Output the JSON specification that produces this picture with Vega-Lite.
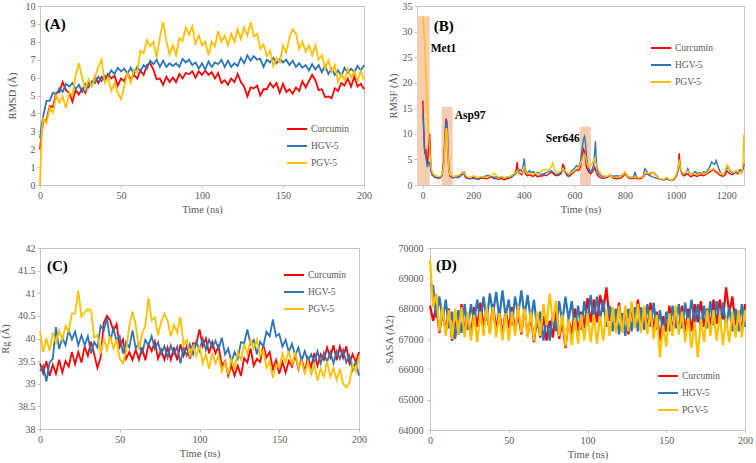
{
"$schema": "https://vega.github.io/schema/vega-lite/v6.json",
"background": "white",
"padding": {"left": 0, "top": 0, "right": 0, "bottom": 0},
"config": {
 "font": "Liberation Serif, Times New Roman, serif",
 "view": {"stroke": "#c4c4c4"},
 "axis": {"grid": false, "labelOverlap": false, "labelFlush": false, "tickCount": 20, "domainColor": "#c4c4c4", "tickColor": "#c4c4c4", "tickSize": 3, "labelColor": "#595959", "titleColor": "#595959", "labelFont": "Liberation Serif, Times New Roman, serif", "titleFont": "Liberation Serif, Times New Roman, serif", "labelFontSize": 10, "titleFontSize": 10.5, "titleFontWeight": "normal", "labelPadding": 2, "titlePadding": 4},
 "legend": {"symbolType": "stroke", "symbolSize": 400, "symbolStrokeWidth": 2, "clipHeight": 12, "labelFont": "Liberation Serif, Times New Roman, serif", "labelFontSize": 9.5, "labelColor": "#595959", "rowPadding": 5, "labelOffset": 3, "padding": 0},
 "text": {"font": "Liberation Serif, Times New Roman, serif"}
},
"datasets": {
"rmsd": [
{"t":0,"c":2.0,"h":2.6,"p":0},{"t":1,"c":2.9,"h":3.3,"p":2.8},{"t":2,"c":3.5,"h":3.85,"p":3.7},{"t":4,"c":3.65,"h":4.7,"p":3.45},{"t":6,"c":4.4,"h":4.7,"p":4.3},{"t":8,"c":4.35,"h":5.15,"p":4.05},{"t":10,"c":5.15,"h":5.05,"p":5.0},{"t":12,"c":5.2,"h":5.4,"p":4.6},{"t":14,"c":5.75,"h":5.2,"p":4.95},{"t":16,"c":5.3,"h":5.65,"p":4.3},{"t":18,"c":5.15,"h":5.5,"p":5.15},{"t":20,"c":4.65,"h":5.7,"p":5.0},
{"t":22,"c":5.3,"h":5.35,"p":6.1},{"t":24,"c":5.05,"h":5.6,"p":6.8},{"t":26,"c":5.4,"h":5.2,"p":6.0},{"t":28,"c":5.15,"h":5.65,"p":5.35},{"t":30,"c":5.75,"h":5.45,"p":5.9},{"t":32,"c":5.6,"h":5.8,"p":5.5},{"t":34,"c":6.05,"h":5.7,"p":6.05},{"t":36,"c":5.7,"h":6.05,"p":6.6},{"t":38,"c":6.05,"h":5.8,"p":7.0},{"t":40,"c":5.85,"h":6.1,"p":5.7},
{"t":42,"c":6.2,"h":6.05,"p":6.0},{"t":44,"c":5.95,"h":6.4,"p":5.25},{"t":46,"c":6.1,"h":6.2,"p":5.7},{"t":48,"c":5.55,"h":6.55,"p":5.15},{"t":50,"c":5.95,"h":6.35,"p":4.8},{"t":52,"c":5.8,"h":6.5,"p":5.5},{"t":54,"c":6.25,"h":6.2,"p":6.25},{"t":56,"c":5.9,"h":6.55,"p":5.7},{"t":58,"c":6.15,"h":6.2,"p":6.45},{"t":60,"c":5.95,"h":6.6,"p":6.3},
{"t":62,"c":6.4,"h":6.35,"p":7.5},{"t":64,"c":6.15,"h":6.7,"p":7.35},{"t":66,"c":6.7,"h":6.5,"p":8.1},{"t":68,"c":6.8,"h":6.95,"p":7.75},{"t":70,"c":6.45,"h":6.75,"p":8.0},{"t":72,"c":5.9,"h":7.0,"p":7.1},{"t":74,"c":5.95,"h":6.6,"p":8.25},{"t":76,"c":5.6,"h":6.95,"p":9.1},{"t":78,"c":6.05,"h":6.6,"p":8.05},{"t":80,"c":5.75,"h":6.8,"p":7.3},
{"t":82,"c":6.0,"h":6.65,"p":7.8},{"t":84,"c":5.75,"h":6.8,"p":7.25},{"t":86,"c":6.2,"h":6.6,"p":8.2},{"t":88,"c":5.95,"h":7.05,"p":8.05},{"t":90,"c":6.25,"h":6.85,"p":8.8},{"t":92,"c":6.2,"h":7.0,"p":8.4},{"t":94,"c":6.35,"h":6.7,"p":8.85},{"t":96,"c":6.0,"h":6.85,"p":7.9},{"t":98,"c":6.35,"h":6.5,"p":8.35},{"t":100,"c":6.15,"h":6.8,"p":7.8},
{"t":102,"c":6.4,"h":6.45,"p":8.0},{"t":104,"c":6.15,"h":6.9,"p":7.25},{"t":106,"c":6.3,"h":6.6,"p":8.0},{"t":108,"c":5.95,"h":6.85,"p":7.75},{"t":110,"c":6.25,"h":6.75,"p":8.6},{"t":112,"c":5.7,"h":7.0,"p":8.0},{"t":114,"c":5.85,"h":6.6,"p":8.35},{"t":116,"c":5.6,"h":6.95,"p":7.8},{"t":118,"c":5.95,"h":6.6,"p":8.45},{"t":120,"c":5.75,"h":6.8,"p":8.0},
{"t":122,"c":6.2,"h":6.65,"p":8.7},{"t":124,"c":5.75,"h":7.1,"p":8.15},{"t":126,"c":5.5,"h":6.8,"p":8.8},{"t":128,"c":4.95,"h":7.25,"p":8.35},{"t":130,"c":5.45,"h":6.95,"p":9.1},{"t":132,"c":5.4,"h":7.2,"p":8.3},{"t":134,"c":5.55,"h":7.0,"p":8.45},{"t":136,"c":5.0,"h":7.05,"p":7.6},{"t":138,"c":5.35,"h":6.6,"p":7.85},{"t":140,"c":5.35,"h":7.0,"p":7.2},
{"t":142,"c":5.7,"h":6.85,"p":7.5},{"t":144,"c":5.45,"h":7.1,"p":6.65},{"t":146,"c":5.7,"h":6.8,"p":7.1},{"t":148,"c":5.15,"h":7.05,"p":6.85},{"t":150,"c":5.65,"h":6.85,"p":7.8},{"t":152,"c":5.2,"h":7.0,"p":7.4},{"t":154,"c":5.35,"h":6.7,"p":8.25},{"t":156,"c":5.1,"h":6.95,"p":8.7},{"t":158,"c":5.45,"h":6.6,"p":8.45},{"t":160,"c":5.25,"h":6.8,"p":7.6},
{"t":162,"c":5.8,"h":6.55,"p":8.0},{"t":164,"c":5.45,"h":6.7,"p":7.45},{"t":166,"c":5.8,"h":6.4,"p":7.8},{"t":168,"c":6.15,"h":6.75,"p":7.25},{"t":170,"c":5.85,"h":6.45,"p":7.8},{"t":172,"c":5.3,"h":6.7,"p":7.0},{"t":174,"c":5.35,"h":6.3,"p":7.25},{"t":176,"c":4.9,"h":6.65,"p":6.5},{"t":178,"c":4.95,"h":6.2,"p":6.95},{"t":180,"c":4.85,"h":6.5,"p":6.3},
{"t":182,"c":5.4,"h":6.15,"p":6.7},{"t":184,"c":5.25,"h":6.4,"p":5.75},{"t":186,"c":5.7,"h":6.1,"p":6.2},{"t":188,"c":5.55,"h":6.55,"p":5.85},{"t":190,"c":5.95,"h":6.25,"p":6.5},{"t":192,"c":5.5,"h":6.5,"p":6.0},{"t":194,"c":6.05,"h":6.3,"p":6.35},{"t":196,"c":5.5,"h":6.65,"p":5.8},{"t":198,"c":5.65,"h":6.4,"p":6.35},{"t":200,"c":5.35,"h":6.7,"p":5.9}
],
"rmsf": [
{"t":1,"c":16.5,"h":14.0,"p":33.0},{"t":4,"c":12,"h":11,"p":31},{"t":7,"c":8,"h":7,"p":29},{"t":10,"c":6,"h":6.5,"p":26},{"t":13,"c":7,"h":5.5,"p":22},{"t":16,"c":5,"h":4.5,"p":18},{"t":19,"c":4,"h":3.5,"p":15},{"t":22,"c":6,"h":4,"p":12},{"t":25,"c":9,"h":4.5,"p":9},{"t":28,"c":10,"h":4.3,"p":7},{"t":31,"c":6,"h":3.5,"p":5},{"t":34,"c":3,"h":2.5,"p":3.5},{"t":38,"c":2,"h":2,"p":2.5},{"t":42,"c":1.8,"h":1.8,"p":2.2},{"t":48,"c":1.5,"h":1.6,"p":2.0},{"t":55,"c":1.4,"h":1.5,"p":1.8},{"t":62,"c":1.3,"h":1.4,"p":1.6},{"t":70,"c":1.4,"h":1.5,"p":1.7},{"t":76,"c":1.8,"h":1.8,"p":2.0},{"t":80,"c":2.8,"h":2.5,"p":2.5},{"t":84,"c":5,"h":4.5,"p":4},{"t":88,"c":9,"h":8,"p":7.5},{"t":91,"c":12,"h":11,"p":10},{"t":93,"c":13.0,"h":12.0,"p":11.0},{"t":95,"c":12.5,"h":12.5,"p":11},{"t":97,"c":11,"h":12.3,"p":10},{"t":99,"c":8,"h":10,"p":8},{"t":101,"c":5.5,"h":6.5,"p":5.5},{"t":104,"c":3,"h":3.5,"p":3},{"t":108,"c":1.8,"h":2,"p":2},
{"t":114,"c":1.5,"h":1.6,"p":1.8},{"t":120,"c":1.4,"h":1.5,"p":1.7},{"t":130,"c":1.5,"h":1.5,"p":1.8},{"t":140,"c":1.6,"h":1.4,"p":1.9},{"t":150,"c":1.8,"h":1.7,"p":2.2},{"t":158,"c":2.4,"h":2.2,"p":2.5},{"t":164,"c":2.0,"h":2.5,"p":2.2},{"t":172,"c":1.4,"h":1.6,"p":1.8},{"t":182,"c":1.2,"h":1.3,"p":1.5},{"t":192,"c":1.3,"h":1.2,"p":1.6},{"t":202,"c":1.5,"h":1.3,"p":1.8},{"t":212,"c":1.2,"h":1.2,"p":1.6},{"t":222,"c":1.1,"h":1.3,"p":1.5},{"t":232,"c":1.4,"h":1.5,"p":1.7},{"t":242,"c":1.3,"h":1.6,"p":1.5},{"t":252,"c":1.2,"h":1.8,"p":1.6},{"t":262,"c":1.4,"h":1.9,"p":1.7},{"t":272,"c":1.6,"h":1.7,"p":1.9},{"t":282,"c":1.3,"h":1.5,"p":2.3},{"t":292,"c":1.2,"h":1.6,"p":1.8},{"t":302,"c":1.1,"h":1.4,"p":1.5},{"t":312,"c":1.3,"h":1.6,"p":1.7},{"t":322,"c":1.0,"h":1.3,"p":1.4},{"t":332,"c":1.2,"h":1.4,"p":1.6},{"t":342,"c":1.3,"h":1.5,"p":1.6},{"t":352,"c":1.6,"h":1.8,"p":1.9},{"t":362,"c":2.0,"h":2.0,"p":2.2},{"t":370,"c":3.0,"h":2.3,"p":2.5},{"t":374,"c":4.5,"h":2.8,"p":2.8},{"t":378,"c":2.5,"h":2.4,"p":2.3},
{"t":385,"c":2.2,"h":3.0,"p":2.5},{"t":392,"c":2.0,"h":2.6,"p":2.4},{"t":398,"c":3.0,"h":4.0,"p":3.2},{"t":402,"c":3.0,"h":5.2,"p":3.5},{"t":406,"c":2.2,"h":3.0,"p":2.6},{"t":414,"c":1.8,"h":2.2,"p":2.2},{"t":422,"c":2.0,"h":2.8,"p":2.4},{"t":430,"c":1.8,"h":2.4,"p":2.2},{"t":438,"c":1.7,"h":2.6,"p":2.1},{"t":446,"c":2.0,"h":2.2,"p":2.4},{"t":454,"c":1.6,"h":2.5,"p":2.0},{"t":462,"c":1.8,"h":2.3,"p":2.3},{"t":470,"c":1.7,"h":2.0,"p":2.8},{"t":480,"c":2.0,"h":2.2,"p":3.0},{"t":490,"c":1.8,"h":2.4,"p":2.9},{"t":500,"c":2.2,"h":2.6,"p":3.0},{"t":508,"c":2.5,"h":2.8,"p":3.5},{"t":514,"c":2.4,"h":2.6,"p":4.3},{"t":520,"c":2.0,"h":2.3,"p":3.0},{"t":530,"c":1.8,"h":2.0,"p":2.5},{"t":540,"c":2.0,"h":2.2,"p":2.6},{"t":548,"c":2.3,"h":2.5,"p":2.8},{"t":554,"c":4.0,"h":3.0,"p":3.2},{"t":558,"c":3.8,"h":2.8,"p":3.0},{"t":564,"c":2.4,"h":2.6,"p":2.7},{"t":572,"c":1.8,"h":2.0,"p":2.3},{"t":580,"c":1.7,"h":2.2,"p":2.2},{"t":590,"c":2.2,"h":2.8,"p":2.5},{"t":600,"c":2.6,"h":3.2,"p":2.8},{"t":608,"c":3.0,"h":3.8,"p":3.2},
{"t":616,"c":2.8,"h":3.5,"p":3.5},{"t":624,"c":3.5,"h":4.5,"p":4.0},{"t":630,"c":5.5,"h":7.0,"p":5.0},{"t":636,"c":7.0,"h":9.0,"p":5.8},{"t":640,"c":6.5,"h":9.5,"p":6.0},{"t":644,"c":5.0,"h":8.0,"p":5.5},{"t":648,"c":3.5,"h":5.5,"p":4.5},{"t":652,"c":3.0,"h":4.0,"p":4.0},{"t":658,"c":2.5,"h":3.0,"p":3.5},{"t":664,"c":2.2,"h":2.5,"p":3.8},{"t":670,"c":2.5,"h":3.0,"p":4.2},{"t":676,"c":3.0,"h":4.0,"p":4.8},{"t":680,"c":3.5,"h":6.5,"p":5.2},{"t":683,"c":3.0,"h":8.6,"p":4.5},{"t":686,"c":2.5,"h":5.0,"p":4.0},{"t":690,"c":2.0,"h":3.0,"p":3.5},{"t":696,"c":1.6,"h":2.2,"p":2.8},{"t":704,"c":1.4,"h":1.8,"p":2.2},{"t":714,"c":1.3,"h":1.6,"p":1.8},{"t":724,"c":1.4,"h":1.6,"p":1.7},{"t":734,"c":1.6,"h":1.7,"p":1.8},{"t":740,"c":2.0,"h":2.1,"p":2.1},{"t":746,"c":1.6,"h":1.8,"p":1.7},{"t":756,"c":1.3,"h":1.7,"p":1.5},{"t":766,"c":1.2,"h":1.8,"p":1.5},{"t":776,"c":1.3,"h":1.7,"p":1.6},{"t":786,"c":1.4,"h":1.9,"p":1.8},{"t":794,"c":1.8,"h":2.2,"p":2.1},{"t":800,"c":2.2,"h":2.4,"p":2.6},{"t":806,"c":1.8,"h":2.0,"p":2.0},
{"t":814,"c":1.4,"h":1.6,"p":1.6},{"t":824,"c":1.2,"h":1.5,"p":1.4},{"t":834,"c":1.3,"h":1.6,"p":1.5},{"t":840,"c":1.4,"h":2.6,"p":1.6},{"t":844,"c":1.3,"h":1.6,"p":1.5},{"t":854,"c":1.2,"h":1.4,"p":1.4},{"t":864,"c":1.3,"h":1.5,"p":1.5},{"t":872,"c":1.5,"h":1.7,"p":1.6},{"t":878,"c":2.0,"h":3.2,"p":2.3},{"t":884,"c":2.2,"h":2.8,"p":2.4},{"t":892,"c":2.0,"h":2.0,"p":2.2},{"t":900,"c":2.2,"h":1.8,"p":2.4},{"t":908,"c":2.5,"h":1.6,"p":2.4},{"t":916,"c":2.3,"h":1.5,"p":2.2},{"t":924,"c":1.8,"h":1.3,"p":1.7},{"t":934,"c":1.3,"h":1.2,"p":1.3},{"t":944,"c":1.1,"h":1.1,"p":1.2},{"t":954,"c":1.0,"h":1.0,"p":1.1},{"t":964,"c":1.2,"h":1.3,"p":1.5},{"t":974,"c":1.0,"h":1.0,"p":1.1},{"t":984,"c":0.9,"h":1.0,"p":1.0},{"t":994,"c":1.1,"h":1.2,"p":1.3},{"t":1004,"c":1.8,"h":2.0,"p":2.2},{"t":1010,"c":3.0,"h":3.0,"p":3.5},{"t":1014,"c":6.2,"h":4.5,"p":5.0},{"t":1018,"c":3.5,"h":3.2,"p":3.5},{"t":1024,"c":2.2,"h":2.4,"p":2.6},{"t":1032,"c":1.8,"h":2.0,"p":2.2},{"t":1040,"c":2.0,"h":2.3,"p":2.5},{"t":1048,"c":2.2,"h":3.2,"p":2.8},
{"t":1054,"c":1.8,"h":2.4,"p":2.3},{"t":1062,"c":1.6,"h":2.0,"p":2.0},{"t":1070,"c":2.0,"h":2.4,"p":2.3},{"t":1078,"c":1.8,"h":2.6,"p":2.1},{"t":1086,"c":1.7,"h":2.2,"p":2.0},{"t":1094,"c":1.9,"h":2.5,"p":2.2},{"t":1102,"c":2.0,"h":2.3,"p":2.4},{"t":1110,"c":1.8,"h":2.6,"p":2.2},{"t":1118,"c":2.0,"h":2.4,"p":2.3},{"t":1126,"c":2.3,"h":2.8,"p":2.5},{"t":1134,"c":2.5,"h":3.5,"p":2.8},{"t":1142,"c":2.8,"h":4.5,"p":3.0},{"t":1148,"c":3.0,"h":4.2,"p":3.2},{"t":1154,"c":2.8,"h":4.0,"p":3.0},{"t":1160,"c":2.5,"h":4.8,"p":2.8},{"t":1166,"c":2.3,"h":3.8,"p":2.6},{"t":1172,"c":2.0,"h":3.0,"p":2.4},{"t":1180,"c":1.8,"h":2.2,"p":2.2},{"t":1188,"c":1.7,"h":2.0,"p":2.0},{"t":1196,"c":2.0,"h":2.6,"p":2.8},{"t":1202,"c":2.8,"h":3.2,"p":4.0},{"t":1208,"c":2.5,"h":3.5,"p":3.5},{"t":1214,"c":2.2,"h":2.8,"p":3.0},{"t":1222,"c":2.0,"h":2.4,"p":2.6},{"t":1230,"c":2.2,"h":2.2,"p":2.4},{"t":1238,"c":2.5,"h":2.8,"p":2.8},{"t":1246,"c":2.2,"h":2.5,"p":2.5},{"t":1254,"c":2.8,"h":3.0,"p":2.6},{"t":1260,"c":2.4,"h":2.6,"p":2.4},{"t":1265,"c":3.0,"h":3.2,"p":3.5},{"t":1270,"c":4.0,"h":4.2,"p":10.0}
],
"rg": [
{"t":0,"c":39.45,"h":39.28,"p":40.15},{"t":2,"c":39.23,"h":39.4,"p":39.7},{"t":4,"c":39.5,"h":39.05,"p":40.0},{"t":6,"c":39.17,"h":39.47,"p":39.73},{"t":8,"c":39.42,"h":39.55,"p":40.13},{"t":10,"c":39.22,"h":40.25,"p":39.9},{"t":12,"c":39.53,"h":39.77,"p":40.17},{"t":14,"c":39.25,"h":40.02,"p":39.97},{"t":16,"c":39.5,"h":39.85,"p":40.28},{"t":18,"c":39.38,"h":40.18,"p":40.16},
{"t":20,"c":39.7,"h":39.98,"p":40.55},{"t":22,"c":39.43,"h":40.15,"p":40.55},{"t":24,"c":39.7,"h":39.85,"p":41.05},{"t":26,"c":39.47,"h":40.07,"p":40.48},{"t":28,"c":39.82,"h":39.85,"p":40.58},{"t":30,"c":39.62,"h":40.05,"p":40.65},{"t":32,"c":39.93,"h":39.67,"p":40.62},{"t":34,"c":39.65,"h":39.92,"p":40.02},{"t":36,"c":39.35,"h":39.8,"p":40.08},{"t":38,"c":39.58,"h":40.28,"p":39.66},
{"t":40,"c":40.35,"h":40.18,"p":40.0},{"t":42,"c":40.5,"h":40.45,"p":39.75},{"t":44,"c":40.4,"h":39.95,"p":40.05},{"t":46,"c":40.17,"h":40.22,"p":39.78},{"t":48,"c":40.32,"h":39.95,"p":39.98},{"t":50,"c":39.82,"h":40.05,"p":39.55},{"t":52,"c":39.98,"h":39.67,"p":39.45},{"t":54,"c":39.55,"h":39.92,"p":39.72},{"t":56,"c":39.7,"h":39.8,"p":40.28},{"t":58,"c":39.53,"h":40.18,"p":40.6},
{"t":60,"c":39.75,"h":39.78,"p":40.3},{"t":62,"c":39.53,"h":39.9,"p":39.75},{"t":64,"c":39.8,"h":39.65,"p":40.1},{"t":66,"c":39.52,"h":39.97,"p":40.28},{"t":68,"c":39.87,"h":39.85,"p":40.9},{"t":70,"c":39.72,"h":40.05,"p":40.4},{"t":72,"c":39.93,"h":39.77,"p":40.47},{"t":74,"c":39.55,"h":39.92,"p":40.07},{"t":76,"c":39.75,"h":39.65,"p":40.38},{"t":78,"c":39.53,"h":39.83,"p":40.55},
{"t":80,"c":39.8,"h":39.58,"p":40.4},{"t":82,"c":39.53,"h":39.85,"p":40.05},{"t":84,"c":39.8,"h":39.65,"p":40.3},{"t":86,"c":39.52,"h":39.82,"p":40.13},{"t":88,"c":39.87,"h":39.45,"p":40.48},{"t":90,"c":39.62,"h":39.8,"p":39.85},{"t":92,"c":39.83,"h":39.62,"p":39.97},{"t":94,"c":39.55,"h":39.87,"p":39.62},{"t":96,"c":39.9,"h":39.65,"p":39.83},{"t":98,"c":39.88,"h":39.93,"p":39.61},
{"t":100,"c":40.2,"h":39.73,"p":39.85},{"t":102,"c":39.83,"h":40.0,"p":39.45},{"t":104,"c":40.0,"h":39.75,"p":39.65},{"t":106,"c":39.67,"h":39.97,"p":39.33},{"t":108,"c":39.92,"h":39.8,"p":39.68},{"t":110,"c":39.67,"h":39.95,"p":39.45},{"t":112,"c":39.83,"h":39.77,"p":39.62},{"t":114,"c":39.4,"h":40.02,"p":39.27},{"t":116,"c":39.5,"h":39.65,"p":39.48},{"t":118,"c":39.18,"h":39.78,"p":39.21},
{"t":120,"c":39.4,"h":39.48,"p":39.55},{"t":122,"c":39.18,"h":39.7,"p":39.35},{"t":124,"c":39.4,"h":39.55,"p":39.7},{"t":126,"c":39.17,"h":39.92,"p":39.53},{"t":128,"c":39.57,"h":39.9,"p":39.88},{"t":130,"c":39.47,"h":40.2,"p":39.65},{"t":132,"c":39.78,"h":39.87,"p":39.97},{"t":134,"c":39.4,"h":39.97,"p":39.77},{"t":136,"c":39.55,"h":39.65,"p":39.98},{"t":138,"c":39.48,"h":39.93,"p":39.61},
{"t":140,"c":39.85,"h":39.83,"p":39.75},{"t":142,"c":39.58,"h":40.15,"p":39.35},{"t":144,"c":39.7,"h":40.05,"p":39.5},{"t":146,"c":39.32,"h":40.42,"p":39.13},{"t":148,"c":39.52,"h":40.05,"p":39.43},{"t":150,"c":39.22,"h":40.1,"p":39.35},{"t":152,"c":39.48,"h":39.82,"p":39.67},{"t":154,"c":39.25,"h":39.97,"p":39.47},{"t":156,"c":39.5,"h":39.7,"p":39.73},{"t":158,"c":39.38,"h":39.88,"p":39.41},
{"t":160,"c":39.65,"h":39.63,"p":39.7},{"t":162,"c":39.33,"h":39.8,"p":39.35},{"t":164,"c":39.55,"h":39.5,"p":39.5},{"t":166,"c":39.27,"h":39.72,"p":39.23},{"t":168,"c":39.57,"h":39.5,"p":39.48},{"t":170,"c":39.37,"h":39.65,"p":39.2},{"t":172,"c":39.68,"h":39.47,"p":39.42},{"t":174,"c":39.4,"h":39.72,"p":39.07},{"t":176,"c":39.65,"h":39.45,"p":39.33},{"t":178,"c":39.53,"h":39.68,"p":39.16},
{"t":180,"c":39.8,"h":39.48,"p":39.5},{"t":182,"c":39.58,"h":39.7,"p":39.15},{"t":184,"c":39.85,"h":39.45,"p":39.35},{"t":186,"c":39.52,"h":39.72,"p":39.08},{"t":188,"c":39.82,"h":39.55,"p":39.33},{"t":190,"c":39.57,"h":39.75,"p":39.0},{"t":192,"c":39.83,"h":39.47,"p":38.92},{"t":194,"c":39.45,"h":39.62,"p":39.02},{"t":196,"c":39.65,"h":39.3,"p":39.43},{"t":198,"c":39.48,"h":39.48,"p":39.26},{"t":200,"c":39.7,"h":39.18,"p":39.6}
],
"sasa": [
{"t":0,"c":68100,"h":68800,"p":69600},{"t":2,"c":67600,"h":68750,"p":68050},{"t":4,"c":68100,"h":67700,"p":68500},{"t":6,"c":67200,"h":68400,"p":67250},{"t":8,"c":67950,"h":67600,"p":68050},{"t":10,"c":67250,"h":68300,"p":67100},{"t":12,"c":68000,"h":67350,"p":67950},{"t":14,"c":66950,"h":67900,"p":67000},{"t":16,"c":67600,"h":67000,"p":68000},{"t":18,"c":67150,"h":67950,"p":67150},
{"t":20,"c":68150,"h":67200,"p":68050},{"t":22,"c":67200,"h":68150,"p":67050},{"t":24,"c":67800,"h":67300,"p":67900},{"t":26,"c":67100,"h":68150,"p":66950},{"t":28,"c":68050,"h":67550,"p":67800},{"t":30,"c":67400,"h":68300,"p":66900},{"t":32,"c":68200,"h":67550,"p":67900},{"t":34,"c":67450,"h":68400,"p":67100},{"t":36,"c":67900,"h":67600,"p":68050},{"t":38,"c":67200,"h":68500,"p":67150},
{"t":40,"c":68150,"h":67800,"p":68050},{"t":42,"c":67300,"h":68550,"p":67050},{"t":44,"c":67950,"h":67700,"p":67850},{"t":46,"c":67100,"h":68600,"p":66950},{"t":48,"c":67950,"h":67750,"p":67850},{"t":50,"c":67350,"h":68300,"p":66950},{"t":52,"c":68050,"h":67450,"p":67900},{"t":54,"c":67250,"h":68400,"p":67100},{"t":56,"c":67850,"h":67800,"p":68100},{"t":58,"c":67150,"h":68600,"p":67200},
{"t":60,"c":68000,"h":67750,"p":68000},{"t":62,"c":67100,"h":68450,"p":67050},{"t":64,"c":67750,"h":67600,"p":67900},{"t":66,"c":66900,"h":68300,"p":66950},{"t":68,"c":67700,"h":67350,"p":67900},{"t":70,"c":67050,"h":67900,"p":67100},{"t":72,"c":67750,"h":66950,"p":68150},{"t":74,"c":66950,"h":67700,"p":67450},{"t":76,"c":67600,"h":66950,"p":68500},{"t":78,"c":67050,"h":67850,"p":67550},
{"t":80,"c":67950,"h":67250,"p":68250},{"t":82,"c":67000,"h":68250,"p":67100},{"t":84,"c":67600,"h":67550,"p":67800},{"t":86,"c":66700,"h":68400,"p":66750},{"t":88,"c":67650,"h":67650,"p":67650},{"t":90,"c":67150,"h":68250,"p":66800},{"t":92,"c":68000,"h":67350,"p":67700},{"t":94,"c":67250,"h":68100,"p":66850},{"t":96,"c":67900,"h":67300,"p":67800},{"t":98,"c":67350,"h":68250,"p":66950},
{"t":100,"c":68350,"h":67550,"p":67850},{"t":102,"c":67550,"h":68450,"p":66900},{"t":104,"c":68300,"h":67650,"p":67800},{"t":106,"c":67550,"h":68400,"p":66850},{"t":108,"c":68450,"h":67650,"p":67750},{"t":110,"c":67900,"h":68300,"p":66950},{"t":112,"c":68700,"h":67400,"p":67950},{"t":114,"c":67600,"h":68100,"p":67100},{"t":116,"c":68050,"h":67250,"p":68050},{"t":118,"c":67350,"h":68000,"p":67200},
{"t":120,"c":68200,"h":67150,"p":68100},{"t":122,"c":67300,"h":67850,"p":67200},{"t":124,"c":67950,"h":67100,"p":68100},{"t":126,"c":67150,"h":68000,"p":67250},{"t":128,"c":68050,"h":67250,"p":68250},{"t":130,"c":67500,"h":68050,"p":67350},{"t":132,"c":68300,"h":67250,"p":68150},{"t":134,"c":67500,"h":68050,"p":67200},{"t":136,"c":68050,"h":67300,"p":68100},{"t":138,"c":67350,"h":68150,"p":67150},
{"t":140,"c":68200,"h":67400,"p":67950},{"t":142,"c":67300,"h":68200,"p":67000},{"t":144,"c":67900,"h":67300,"p":67800},{"t":146,"c":66950,"h":67950,"p":66400},{"t":148,"c":67750,"h":67150,"p":67450},{"t":150,"c":67250,"h":67900,"p":66750},{"t":152,"c":68100,"h":67250,"p":67850},{"t":154,"c":67300,"h":68100,"p":67100},{"t":156,"c":67900,"h":67350,"p":68100},{"t":158,"c":67250,"h":68150,"p":67150},
{"t":160,"c":68100,"h":67350,"p":67900},{"t":162,"c":67250,"h":68200,"p":66900},{"t":164,"c":68000,"h":67450,"p":67700},{"t":166,"c":67250,"h":68300,"p":66700},{"t":168,"c":68150,"h":67550,"p":67550},{"t":170,"c":67550,"h":68150,"p":66400},{"t":172,"c":68250,"h":67300,"p":67650},{"t":174,"c":67400,"h":68100,"p":66900},{"t":176,"c":68000,"h":67350,"p":67950},{"t":178,"c":67400,"h":68250,"p":67100},
{"t":180,"c":68300,"h":67450,"p":67950},{"t":182,"c":67500,"h":68250,"p":66950},{"t":184,"c":68300,"h":67450,"p":67800},{"t":186,"c":67650,"h":68200,"p":66800},{"t":188,"c":68700,"h":67400,"p":67700},{"t":190,"c":67850,"h":68050,"p":66900},{"t":192,"c":68400,"h":67250,"p":67900},{"t":194,"c":67450,"h":68000,"p":67050},{"t":196,"c":67950,"h":67250,"p":67950},{"t":198,"c":67250,"h":68150,"p":67050},{"t":200,"c":68150,"h":67400,"p":67950}
]
},
"resolve": {"scale": {"color": "independent"}, "legend": {"color": "independent"}},
"spacing": 27,
"vconcat": [
{
 "spacing": 15,
 "resolve": {"scale": {"color": "independent"}, "legend": {"color": "independent"}},
 "hconcat": [
 {
  "width": 324, "height": 179,
  "layer": [
   {"data": {"name": "rmsd"}, "transform": [{"fold": ["c","h","p"], "as": ["s","v"]}],
    "mark": {"type": "line", "strokeWidth": 1.8},
    "encoding": {
     "x": {"field": "t", "type": "quantitative", "scale": {"domain": [0,200], "nice": false}, "axis": {"values": [0,50,100,150,200], "tickCount": 20, "title": "Time (ns)", "labelOverlap": false, "labelFont": "Liberation Serif", "titleFont": "Liberation Serif", "titleFontWeight": "normal"}},
     "y": {"field": "v", "type": "quantitative", "scale": {"domain": [0,10], "nice": false}, "axis": {"values": [0,1,2,3,4,5,6,7,8,9,10], "tickCount": 20, "format": "d", "title": "RMSD (Å)", "titlePadding": 8, "labelOverlap": false, "labelFont": "Liberation Serif", "titleFont": "Liberation Serif", "titleFontWeight": "normal"}},
     "color": {"field": "s", "type": "nominal", "scale": {"domain": ["c","h","p"], "range": ["#FF0000","#2E75B6","#FFC000"]},
       "legend": {"title": null, "orient": "none", "legendX": 246, "legendY": 117, "labelFont": "Liberation Serif", "labelExpr": "datum.label == 'c' ? 'Curcumin' : datum.label == 'h' ? 'HGV-5' : 'PGV-5'"}}
    }},
   {"data": {"values": [{"label": "(A)"}]},
    "mark": {"type": "text", "font": "Liberation Serif", "fontSize": 15, "fontWeight": "bold", "align": "left", "baseline": "middle", "color": "#000000"},
    "encoding": {"x": {"datum": 3, "type": "quantitative"}, "y": {"datum": 9, "type": "quantitative"}, "text": {"field": "label"}}}
  ]
 },
 {
  "width": 327, "height": 179,
  "layer": [
   {"data": {"values": [{"x0": -22, "x1": 28, "y0": 0, "y1": 33}, {"x0": 75, "x1": 119, "y0": 0, "y1": 15.3}, {"x0": 622, "x1": 665, "y0": 0, "y1": 11.4}]},
    "mark": {"type": "rect", "color": "#F7CDB2"},
    "encoding": {"x": {"field": "x0", "type": "quantitative"}, "x2": {"field": "x1"}, "y": {"field": "y0", "type": "quantitative"}, "y2": {"field": "y1"}}},
   {"data": {"name": "rmsf"}, "transform": [{"fold": ["c","h","p"], "as": ["s","v"]}],
    "mark": {"type": "line", "strokeWidth": 1.4},
    "encoding": {
     "x": {"field": "t", "type": "quantitative", "scale": {"domain": [-22,1270], "nice": false, "zero": false}, "axis": {"values": [0,200,400,600,800,1000,1200], "tickCount": 20, "format": "d", "title": "Time (ns)", "labelOverlap": false, "labelFont": "Liberation Serif", "titleFont": "Liberation Serif", "titleFontWeight": "normal"}},
     "y": {"field": "v", "type": "quantitative", "scale": {"domain": [0,35], "nice": false}, "axis": {"values": [0,5,10,15,20,25,30,35], "tickCount": 20, "format": "d", "title": "RMSF (Å)", "labelOverlap": false, "labelFont": "Liberation Serif", "titleFont": "Liberation Serif", "titleFontWeight": "normal"}},
     "color": {"field": "s", "type": "nominal", "scale": {"domain": ["c","h","p"], "range": ["#FF0000","#2E75B6","#FFC000"]},
       "legend": {"title": null, "orient": "none", "legendX": 233, "legendY": 36, "labelFont": "Liberation Serif", "labelExpr": "datum.label == 'c' ? 'Curcumin' : datum.label == 'h' ? 'HGV-5' : 'PGV-5'"}}
    }},
   {"data": {"values": [{"label": "(B)"}]},
    "mark": {"type": "text", "font": "Liberation Serif", "fontSize": 15, "fontWeight": "bold", "align": "left", "baseline": "middle", "color": "#000000"},
    "encoding": {"x": {"datum": 44, "type": "quantitative"}, "y": {"datum": 31, "type": "quantitative"}, "text": {"field": "label"}}},
   {"data": {"values": [{"label": "Met1", "r": 32, "y": 26.5}, {"label": "Asp97", "r": 127, "y": 13.4}, {"label": "Ser646", "r": 487, "y": 8.9}]},
    "mark": {"type": "text", "font": "Liberation Serif", "fontSize": 11.5, "fontWeight": "bold", "align": "left", "baseline": "middle", "color": "#000000"},
    "encoding": {"x": {"field": "r", "type": "quantitative"}, "y": {"field": "y", "type": "quantitative"}, "text": {"field": "label"}}}
  ]
 }
 ]
},
{
 "spacing": 16,
 "resolve": {"scale": {"color": "independent"}, "legend": {"color": "independent"}},
 "hconcat": [
 {
  "width": 319, "height": 181,
  "layer": [
   {"data": {"name": "rg"}, "transform": [{"fold": ["c","h","p"], "as": ["s","v"]}],
    "mark": {"type": "line", "strokeWidth": 1.8},
    "encoding": {
     "x": {"field": "t", "type": "quantitative", "scale": {"domain": [0,200], "nice": false}, "axis": {"values": [0,50,100,150,200], "tickCount": 20, "title": "Time (ns)", "labelOverlap": false, "labelFont": "Liberation Serif", "titleFont": "Liberation Serif", "titleFontWeight": "normal"}},
     "y": {"field": "v", "type": "quantitative", "scale": {"domain": [38,42], "nice": false, "zero": false}, "axis": {"values": [38,38.5,39,39.5,40,40.5,41,41.5,42], "tickCount": 20, "labelExpr": "datum.value + ''", "title": "Rg (Å)", "titlePadding": 7, "labelOverlap": false, "labelFont": "Liberation Serif", "titleFont": "Liberation Serif", "titleFontWeight": "normal"}},
     "color": {"field": "s", "type": "nominal", "scale": {"domain": ["c","h","p"], "range": ["#FF0000","#2E75B6","#FFC000"]},
       "legend": {"title": null, "orient": "none", "legendX": 243, "legendY": 21, "labelFont": "Liberation Serif", "labelExpr": "datum.label == 'c' ? 'Curcumin' : datum.label == 'h' ? 'HGV-5' : 'PGV-5'"}}
    }},
   {"data": {"values": [{"label": "(C)"}]},
    "mark": {"type": "text", "font": "Liberation Serif", "fontSize": 15, "fontWeight": "bold", "align": "left", "baseline": "middle", "color": "#000000"},
    "encoding": {"x": {"datum": 4.4, "type": "quantitative"}, "y": {"datum": 41.6, "type": "quantitative"}, "text": {"field": "label"}}}
  ]
 },
 {
  "width": 315, "height": 182,
  "layer": [
   {"data": {"name": "sasa"}, "transform": [{"fold": ["c","h","p"], "as": ["s","v"]}],
    "mark": {"type": "line", "strokeWidth": 2.2},
    "encoding": {
     "x": {"field": "t", "type": "quantitative", "scale": {"domain": [0,200], "nice": false}, "axis": {"values": [0,50,100,150,200], "tickCount": 20, "title": "Time (ns)", "labelOverlap": false, "labelFont": "Liberation Serif", "titleFont": "Liberation Serif", "titleFontWeight": "normal"}},
     "y": {"field": "v", "type": "quantitative", "scale": {"domain": [64000,70000], "nice": false, "zero": false}, "axis": {"values": [64000,65000,66000,67000,68000,69000,70000], "tickCount": 20, "format": "d", "title": "SASA (Å2)", "labelPadding": 4, "labelOverlap": false, "labelFont": "Liberation Serif", "titleFont": "Liberation Serif", "titleFontWeight": "normal"}},
     "color": {"field": "s", "type": "nominal", "scale": {"domain": ["c","h","p"], "range": ["#FF0000","#2E75B6","#FFC000"]},
       "legend": {"title": null, "orient": "none", "legendX": 227, "legendY": 122, "labelFont": "Liberation Serif", "labelExpr": "datum.label == 'c' ? 'Curcumin' : datum.label == 'h' ? 'HGV-5' : 'PGV-5'"}}
    }},
   {"data": {"values": [{"label": "(D)"}]},
    "mark": {"type": "text", "font": "Liberation Serif", "fontSize": 15, "fontWeight": "bold", "align": "left", "baseline": "middle", "color": "#000000"},
    "encoding": {"x": {"datum": 3.8, "type": "quantitative"}, "y": {"datum": 69440, "type": "quantitative"}, "text": {"field": "label"}}}
  ]
 }
 ]
}
]
}
